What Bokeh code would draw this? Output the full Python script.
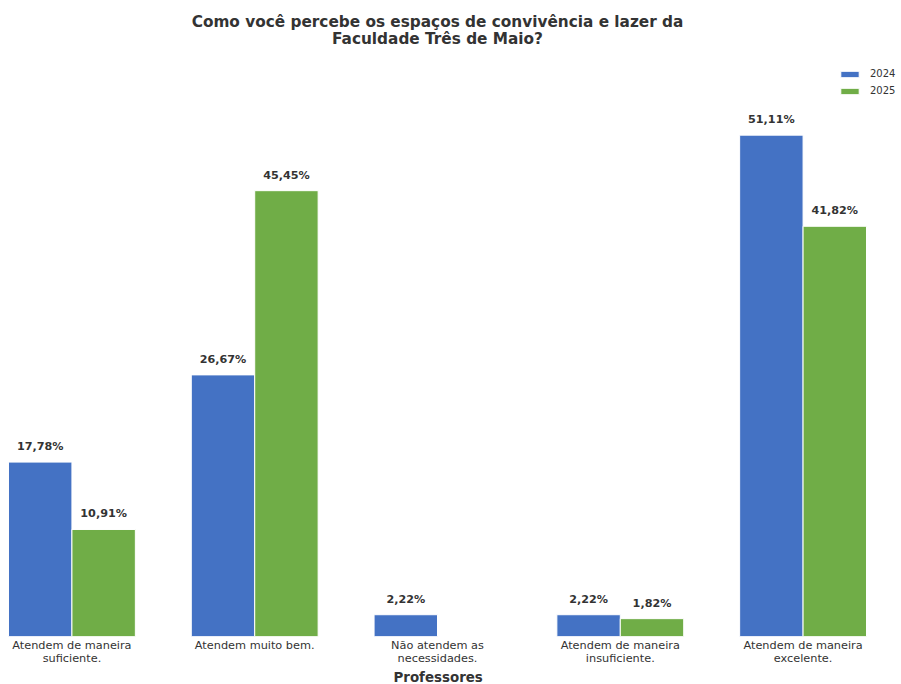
from bokeh.plotting import figure
from bokeh.models import ColumnDataSource, LabelSet, Label, Legend, LegendItem, Title
from bokeh.embed import file_html
from bokeh.resources import INLINE
from bokeh.core.properties import value

categories = ["Atendem de maneira\nsuficiente.", "Atendem muito bem.", "Não atendem as\nnecessidades.",
              "Atendem de maneira\ninsuficiente.", "Atendem de maneira\nexcelente."]
series_names = ["2024", "2025"]
values_2024 = [17.78, 26.67, 2.22, 2.22, 51.11]
values_2025 = [10.91, 45.45, None, 1.82, 41.82]
colors = ["#4472C4", "#70AD47"]
title_lines = ["Como você percebe os espaços de convivência e lazer da", "Faculdade Três de Maio?"]
x_title = "Professores"

FONT = "DejaVu Sans"
TXT = "#333333"
W, H = 901, 684
BOTTOM = 46                      # axis panel height
frame_h = H - BOTTOM
bar_w = 0.347
offsets = [-bar_w / 2, bar_w / 2]

# horizontal scale: bars span page x 8..866
px_per_x = 858 / (len(categories) - 1 + 2 * bar_w)
x_start = -bar_w - 8 / px_per_x
x_end = x_start + W / px_per_x
# vertical scale
px_per_y = 9.84
y_end = frame_h / px_per_y

p = figure(width=W, height=H, output_backend="svg", toolbar_location=None,
           x_range=(x_start, x_end), y_range=(0, y_end),
           min_border_left=0, min_border_right=0, min_border_top=0, min_border_bottom=BOTTOM)
p.outline_line_color = None
p.grid.visible = False
p.yaxis.visible = False
p.title.visible = False

renderers = []
for vals, off, col in zip([values_2024, values_2025], offsets, colors):
    xs = [i + off for i, v in enumerate(vals) if v is not None]
    ys = [v for v in vals if v is not None]
    labels = [f"{v:.2f}%".replace(".", ",") for v in ys]
    src = ColumnDataSource(dict(x=xs, top=ys, label=labels))
    r = p.vbar(x="x", top="top", width=bar_w, source=src, fill_color=col,
               line_color="white", line_width=1)
    renderers.append(r)
    p.add_layout(LabelSet(x="x", y="top", text="label", source=src, y_offset=12,
                          text_align="center", text_baseline="alphabetic",
                          text_font=value(FONT), text_font_size="11.2px",
                          text_font_style="bold", text_color=TXT))

xa = p.xaxis[0]
xa.ticker = list(range(len(categories)))
xa.major_label_overrides = {i: c for i, c in enumerate(categories)}
xa.axis_line_color = None
xa.major_tick_line_color = None
xa.minor_tick_line_color = None
xa.major_tick_out = 0
xa.major_tick_in = 0
xa.minor_tick_out = 0
xa.major_label_text_font = FONT
xa.major_label_text_font_size = "11.3px"
xa.major_label_text_line_height = 1.0
xa.major_label_text_color = TXT
xa.major_label_standoff = 2

# axis title, centred under the bars (page x ~437)
p.add_layout(Title(text=x_title, align="left", offset=393, standoff=0,
                   text_font=FONT, text_font_size="13.4px", text_font_style="bold",
                   text_color=TXT), "below")

# title lines
for txt, base in zip(title_lines, [22, 38.5]):
    p.add_layout(Label(x=(len(categories) - 1) / 2, y=y_end - base / px_per_y, text=txt,
                       text_align="center", text_baseline="alphabetic",
                       text_font=FONT, text_font_size="15.3px", text_font_style="bold",
                       text_color=TXT))

legend = Legend(items=[LegendItem(label=n, renderers=[r]) for n, r in zip(series_names, renderers)],
                location=(838, frame_h - 98.5), padding=0, margin=0, spacing=5,
                glyph_width=23, glyph_height=8, label_height=12, label_standoff=9,
                label_text_font=FONT, label_text_font_size="10px", label_text_color=TXT,
                border_line_color=None, background_fill_alpha=0)
p.add_layout(legend)

open("out.html", "w").write(file_html(p, INLINE))
